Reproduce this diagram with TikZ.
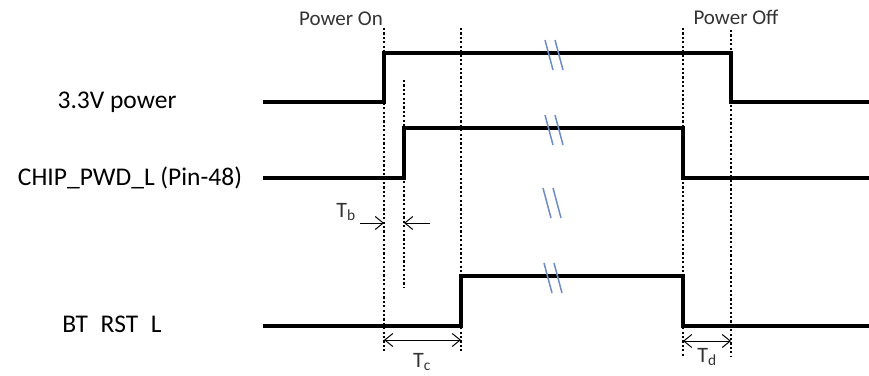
\documentclass[tikz,border=0pt]{standalone}
\usepackage{fontspec}
\setmainfont{Carlito}
\usepackage{tikz}
\usetikzlibrary{arrows.meta}

\begin{document}
\begin{tikzpicture}[x=1pt,y=-1pt]
			\def\sigwidth{3.4pt}
			\definecolor{breakcolor}{RGB}{110,140,200}
			\tikzset{
				signal/.style={line width=\sigwidth,line join=miter},
				marker/.style={line width=2.2pt,dash pattern=on 2.2pt off 2.2pt},
				gap/.style={line width=1pt,-{Straight Barb[length=8pt,width=13pt]}},
				span/.style={line width=1pt,{Straight Barb[length=8pt,width=13pt]}-{Straight Barb[length=8pt,width=13pt]}},
				siglabel/.style={font=\fontsize{25.5}{28}\selectfont},
				toplabel/.style={font=\fontsize{21}{24}\selectfont,text=black!80},
				tlabel/.style={font=\fontsize{22}{24}\selectfont,text=black!80,inner sep=1pt}
			}
			\def\brk#1{\draw[breakcolor,line width=1.5pt] ([xshift=-9pt,yshift=15pt]#1) -- ([xshift=-1pt,yshift=-15pt]#1)
				([xshift=1pt,yshift=15pt]#1) -- ([xshift=9pt,yshift=-15pt]#1);}
			
			\useasboundingbox (0,0) rectangle (869,375);
			
			% timing marks
			\coordinate (on) at (384,0);
			\coordinate (pwd) at (404,0);
			\coordinate (rst) at (461,0);
			\coordinate (down) at (683,0);
			\coordinate (off) at (731,0);
			
			\draw[marker] (on |- 0,28) -- (on |- 0,352);
			\draw[marker] (pwd |- 0,80) -- (pwd |- 0,288);
			\draw[marker] (rst |- 0,28) -- (rst |- 0,352);
			\draw[marker] (down |- 0,28) -- (down |- 0,356);
			\draw[marker] (off |- 0,30) -- (off |- 0,356);
			
			\node[toplabel] (poweron) at (341,19) {Power On};
			\node[toplabel] (poweroff) at (736,17) {Power Off};
			
			% signals
			\node[siglabel] (vcc) at (117,102) {3.3V power};
			\node[siglabel] (chip) at (130,178) {CHIP\_PWD\_L (Pin-48)};
			\node[siglabel] (bt) at (112,326) {BT\phantom{\_}RST\phantom{\_}L};
			
			\draw[signal] (263,102) -- (on |- 0,102) -- (on |- 0,53) -- (off |- 0,53) -- (off |- 0,102) -- (869,102);
			\draw[signal] (263,178) -- (pwd |- 0,178) -- (pwd |- 0,128) -- (down |- 0,128) -- (down |- 0,178) -- (869,178);
			\draw[signal] (263,326) -- (rst |- 0,326) -- (rst |- 0,276) -- (down |- 0,276) -- (down |- 0,326) -- (869,326);
			
			\coordinate (b1) at (554,55);
			\coordinate (b2) at (554,130);
			\coordinate (b3) at (552,203);
			\coordinate (b4) at (553,278);
			\brk{b1} \brk{b2} \brk{b3} \brk{b4}
			
			% delays
			\coordinate (tbl) at (360,223);
			\coordinate (tbr) at (430,223);
			\draw[gap] (tbl) -- (on |- tbl);
			\draw[gap] (tbr) -- (pwd |- tbr);
			\node[tlabel] (tb) at (346,212) {T\textsubscript{b}};
			
			\draw[span] (on |- 0,340) -- (rst |- 0,340);
			\node[tlabel] (tc) at (422,362) {T\textsubscript{c}};
			
			\draw[span] (down |- 0,341) -- (off |- 0,341);
			\node[tlabel] (td) at (707,357) {T\textsubscript{d}};
		\end{tikzpicture}
\end{document}
